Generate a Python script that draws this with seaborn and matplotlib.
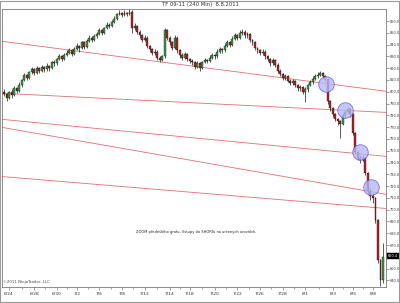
import matplotlib
matplotlib.use("Agg")
import matplotlib.pyplot as plt
from matplotlib.patches import Rectangle
import seaborn as sns
import pandas as pd

# ---- data (TF 09-11, 240 min bars) ----
opens = [800, 798, 795, 800, 797, 803, 801, 806, 810, 814,
         812, 817, 819, 816, 820, 818, 821, 819, 822, 820,
         825, 824, 828, 830, 828, 831, 833, 835, 832, 836,
         839, 837, 842, 838, 843, 846, 844, 847, 849, 852,
         850, 854, 857, 856, 859, 862, 866, 867, 865, 867,
         866, 868, 854, 856, 851, 848, 844, 846, 839, 836,
         833, 834, 829, 827, 830, 852, 846, 842, 837, 846,
         835, 831, 829, 832, 828, 826, 825, 821, 824, 820,
         825, 827, 826, 829, 831, 830, 834, 836, 835, 839,
         842, 840, 845, 848, 846, 850, 851, 848, 849, 844,
         842, 837, 835, 833, 834, 830, 828, 824, 827, 823,
         818, 815, 812, 813, 809.5, 807.5, 809, 806, 803, 804,
         800, 802, 806, 808, 811, 813, 814, 816, 813, 811,
         792, 786, 781, 777, 775, 773, 780, 783, 785, 781,
         765, 749, 744, 742, 744, 731, 716, 712, 710, 691,
         657, 640]
closes = [798, 795, 800, 797, 803, 801, 806, 810, 814, 812,
          817, 819, 816, 820, 818, 821, 819, 822, 820, 825,
          824, 828, 830, 828, 831, 833, 835, 832, 836, 839,
          837, 842, 838, 843, 846, 844, 847, 849, 852, 850,
          854, 857, 856, 859, 862, 866, 867, 865, 867, 866,
          868, 854, 856, 851, 848, 844, 846, 839, 836, 833,
          834, 829, 827, 830, 852, 846, 842, 837, 846, 835,
          831, 829, 832, 828, 826, 825, 821, 824, 820, 825,
          827, 826, 829, 831, 830, 834, 836, 835, 839, 842,
          840, 845, 848, 846, 850, 851, 848, 849, 844, 842,
          837, 835, 833, 834, 830, 828, 824, 827, 823, 818,
          815, 812, 813, 809.5, 807.5, 809, 806, 803, 804, 800,
          802, 806, 808, 811, 813, 814, 816, 813, 811, 792,
          786, 781, 777, 775, 773, 780, 783, 785, 781, 765,
          749, 744, 742, 744, 731, 716, 712, 710, 691, 657,
          640, 660]
highs = [802, 799, 801, 802, 805, 804, 808, 811, 816, 815,
         818, 821, 820, 822, 821, 823, 822, 824, 823, 826,
         827, 829, 832, 831, 833, 835, 837, 836, 838, 841,
         840, 843, 843, 845, 848, 847, 849, 851, 854, 853,
         855, 859, 858, 861, 864, 867, 869, 868, 869, 868,
         870, 869, 858, 857, 852, 849, 848, 847, 840, 837,
         836, 835, 830, 831, 854, 853, 847, 843, 848, 847,
         836, 833, 834, 833, 829, 828, 826, 826, 825, 826,
         829, 828, 831, 833, 832, 836, 838, 837, 841, 844,
         843, 847, 850, 849, 852, 853, 852, 851, 850, 845,
         843, 838, 836, 836, 835, 831, 829, 829, 828, 824,
         819, 816, 815, 814, 811, 811, 810, 807, 806, 805,
         804, 807, 810, 813, 815, 817, 818, 817, 814, 812,
         793, 787, 782, 778, 776, 781, 784, 787, 786, 782,
         766, 750, 746, 746, 745, 732, 718, 714, 711, 692,
         658, 672]
lows = [796, 792, 794, 795, 796, 799, 800, 804, 809, 810,
        811, 815, 814, 815, 816, 817, 817, 818, 818, 819,
        822, 823, 827, 826, 827, 830, 832, 830, 831, 835,
        834, 836, 836, 837, 842, 842, 843, 846, 848, 848,
        849, 853, 854, 855, 858, 861, 865, 863, 864, 864,
        865, 850, 852, 849, 846, 842, 843, 837, 834, 831,
        831, 827, 825, 826, 829, 844, 840, 835, 836, 833,
        829, 827, 828, 826, 824, 823, 819, 820, 818, 819,
        824, 824, 825, 828, 828, 829, 833, 833, 834, 838,
        838, 839, 844, 844, 845, 848, 846, 846, 842, 840,
        835, 833, 831, 831, 828, 826, 822, 823, 821, 816,
        813, 810, 810, 808, 806, 806, 804, 801, 801, 798,
        791, 800, 805, 807, 810, 812, 813, 811, 809, 790,
        784, 779, 775, 772, 761, 772, 778, 782, 779, 763,
        747, 742, 740, 741, 729, 714, 708, 706, 689, 655,
        635, 638]

x_tick_pos = [2, 12, 21, 29, 38, 47, 56, 66, 74, 84, 93, 102, 111, 120, 131, 139, 147]
x_tick_labels = ["6/24", "6/28", "6/30", "7/2", "7/6", "7/8", "7/12", "7/14", "7/18",
                 "7/20", "7/22", "7/26", "7/28", "8/1", "8/3", "8/5", "8/8"]
y_ticks = [640, 650, 670, 680, 690, 700, 710, 720, 730, 740, 750,
           760, 770, 780, 790, 800, 810, 820, 830, 840, 850, 860]

trend_left = [842.8, 798.7, 776.6, 769.8, 728.1]
trend_right = [800.4, 782.5, 745.2, 713.0, 701.0]

signal_idx = [128.3, 135.9, 141.8, 146.2]
signal_price = [806.3, 784.3, 748.6, 718.9]

last_price = 660.4

title = "TF 09-11 (240 Min)  8.8.2011"
note = "ZOOM předešlého grafu, Vstupy do SHORTu na určených úrovních."
copyright_txt = "©2011 NinjaTrader, LLC"

# ---- style ----
sns.set_theme(style="white")
plt.rcParams["font.family"] = ["DejaVu Sans"]

fig = plt.figure(figsize=(4.0, 3.03), dpi=100)
ax = fig.add_axes([2 / 400, 16 / 303, 384 / 400, 278 / 303])
ax.set_facecolor("white")

df = pd.DataFrame({"open": opens, "high": highs, "low": lows, "close": closes})
df["idx"] = range(len(df))
up = df["close"] >= df["open"]

xmin, xmax = -0.8, 152.2
ymin, ymax = 634.4, 870.2

# trend lines
for l, r in zip(trend_left, trend_right):
    ax.plot([xmin, xmax], [l, r], color="#e07070", lw=0.6, zorder=1)

# wicks
ax.vlines(df["idx"], df["low"], df["high"], color="black", lw=0.45, zorder=2)
# bodies
body_lo = df[["open", "close"]].min(axis=1)
body_h = (df["close"] - df["open"]).abs().clip(lower=0.4)
ax.bar(df["idx"][up], body_h[up], bottom=body_lo[up], width=0.75,
       color="#3f9f4a", edgecolor="black", linewidth=0.25, zorder=3)
ax.bar(df["idx"][~up], body_h[~up], bottom=body_lo[~up], width=0.75,
       color="#b5262b", edgecolor="black", linewidth=0.25, zorder=3)

# signal circles
sig = pd.DataFrame({"idx": signal_idx, "price": signal_price})
sns.scatterplot(data=sig, x="idx", y="price", s=125, color="#b8b8f4", alpha=0.8,
                edgecolor="#5858d8", linewidth=0.6, ax=ax, zorder=4, legend=False)

ax.set_xlim(xmin, xmax)
ax.set_ylim(ymin, ymax)
ax.set_xlabel("")
ax.set_ylabel("")

# axes styling
for sp in ax.spines.values():
    sp.set_color("#7a7a7a")
    sp.set_linewidth(0.6)
ax.yaxis.tick_right()
ax.set_yticks(y_ticks)
ax.set_yticklabels([f"{v:.1f}" for v in y_ticks])
ax.set_xticks(x_tick_pos)
ax.set_xticklabels(x_tick_labels)
minor = [(a + b) / 2 for a, b in zip(x_tick_pos[:-1], x_tick_pos[1:])]
ax.set_xticks(minor, minor=True)
ax.tick_params(axis="y", which="major", right=True, left=False, length=1.8, width=0.4,
               color="#555555", labelsize=2.5, labelcolor="#333333", pad=0.6)
ax.tick_params(axis="x", which="major", bottom=True, length=2.5, width=0.4,
               color="#555555", labelsize=3.2, labelcolor="#333333", pad=1)
ax.tick_params(axis="x", which="minor", bottom=True, length=1.5, width=0.4, color="#555555")

# last price box
ax.text(1.0045, last_price, f"{last_price:.1f}", transform=ax.get_yaxis_transform(),
        ha="left", va="center", fontsize=2.5, color="white",
        bbox=dict(boxstyle="square,pad=0.25", fc="black", ec="black", lw=0.3), clip_on=False)

# texts
fig.text(0.5, 1 - 4.5 / 303, title, ha="center", va="center", fontsize=3.8, color="#333333")
ax.text(0.505, 0.198, note, transform=ax.transAxes, ha="center", va="center",
        fontsize=2.6, color="#222222")
ax.text(0.002, 0.012, copyright_txt, transform=ax.transAxes, ha="left", va="bottom",
        fontsize=2.8, color="#444444")

# outer frame
fig.patches.append(Rectangle((0.0, 0.004), 0.998, 0.994, transform=fig.transFigure,
                             fill=False, ec="#9a9a9a", lw=0.8))

fig.savefig("out.png", dpi=100)
